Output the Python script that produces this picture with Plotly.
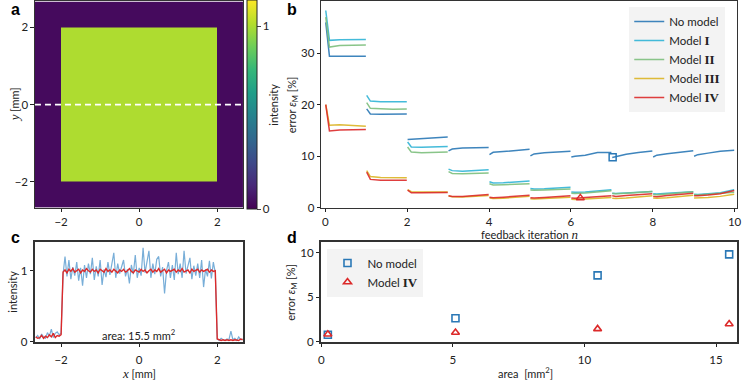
import plotly.graph_objects as go

# ── paleta ────────────────────────────────────────────────────────────────
C_NO = "#2a78b6"
C_I = "#30b4d6"
C_II = "#7dbf7d"
C_III = "#dcb424"
C_IV = "#dc2a2a"
C_NO_C = "#78aed8"
TINTA = "#222222"
FONTE = "Lato"
SERIF = "Liberation Serif"

# ── painel a: imagem (bordas das células em mm) ───────────────────────────
A_X_EDGES = [-2.67, -2.0, 2.0, 2.67]
A_Y_EDGES = [-2.67, -2.0, 2.0, 2.67]
A_Z = [[0.03, 0.03, 0.03],
       [0.03, 1.0, 0.03],
       [0.03, 0.03, 0.03]]
A_ZMAX = 1.14
CUT_Y = 0.0

# ── painel b: erro por iteração de feedback ───────────────────────────────
ITER = [0, 1, 2, 3, 4, 5, 6, 7, 8, 9]
T_OFF = [0.01, 0.1, 0.35, 0.65, 0.99]   # posição dentro de cada iteração

ERR_NO = [[36.0, 29.4, 29.4, 29.4, 29.4], [19.2, 18.2, 18.15, 18.2, 18.2],
          [13.25, 13.3, 13.4, 13.55, 13.75], [11.05, 11.4, 11.6, 11.65, 11.7],
          [10.3, 10.75, 10.9, 11.1, 11.35], [10.05, 10.45, 10.65, 10.8, 10.95],
          [9.85, 10.0, 10.2, 10.7, 10.7], [9.75, 9.95, 10.4, 10.7, 11.0],
          [9.85, 10.2, 10.5, 10.8, 11.05], [10.0, 10.3, 10.6, 10.95, 11.15]]
ERR_I = [[38.3, 32.5, 32.6, 32.65, 32.65], [21.8, 20.7, 20.6, 20.6, 20.6],
         [12.75, 11.8, 11.75, 11.8, 11.9], [7.5, 7.2, 7.1, 7.2, 7.35],
         [5.05, 4.8, 4.85, 5.05, 5.2], [3.75, 3.65, 3.7, 3.8, 3.95],
         [3.05, 3.0, 3.05, 3.25, 3.5], [2.8, 2.75, 2.85, 3.0, 3.15],
         [2.7, 2.65, 2.8, 2.95, 3.1], [2.6, 2.55, 2.7, 2.9, 3.5]]
ERR_II = [[37.0, 31.2, 31.5, 31.6, 31.6], [20.4, 19.3, 19.2, 19.1, 19.15],
          [11.8, 10.8, 10.65, 10.7, 10.8], [7.0, 6.65, 6.6, 6.65, 6.75],
          [4.65, 4.4, 4.45, 4.55, 4.65], [3.45, 3.4, 3.45, 3.55, 3.65],
          [2.8, 2.75, 2.85, 3.05, 3.3], [2.75, 2.7, 2.8, 2.95, 3.15],
          [2.55, 2.5, 2.65, 2.85, 3.1], [2.5, 2.45, 2.6, 2.8, 3.0]]
ERR_III = [[20.0, 16.0, 16.1, 16.0, 15.8], [7.2, 6.05, 5.85, 5.8, 5.8],
           [3.5, 3.1, 3.05, 3.05, 3.05], [2.25, 2.15, 2.1, 2.2, 2.35],
           [1.9, 1.8, 1.85, 2.0, 2.2], [1.75, 1.7, 1.8, 1.9, 2.05],
           [1.65, 1.6, 1.7, 1.85, 2.0], [1.85, 1.8, 1.9, 2.05, 2.3],
           [1.9, 1.85, 1.95, 2.15, 2.4], [1.9, 1.9, 2.0, 2.2, 2.6]]
ERR_IV = [[20.0, 14.9, 15.1, 15.2, 15.2], [6.9, 5.5, 5.35, 5.3, 5.35],
          [3.4, 2.9, 2.9, 2.9, 2.95], [2.3, 2.2, 2.2, 2.35, 2.55],
          [2.05, 1.95, 2.05, 2.2, 2.4], [1.95, 1.9, 2.0, 2.15, 2.3],
          [1.9, 1.85, 2.0, 2.1, 2.3], [2.3, 2.2, 2.35, 2.5, 2.7],
          [2.2, 2.15, 2.35, 2.55, 2.8], [2.3, 2.3, 2.45, 2.7, 3.35]]

MARK_NO_B = (7.02, 9.8)
MARK_IV_B = (6.23, 1.9)

# ── painel c: perfil de intensidade em y = 0 ──────────────────────────────
X_PROFILE = [
    -2.65, -2.6, -2.55, -2.5, -2.45, -2.4, -2.35, -2.3, -2.25, -2.2,
    -2.15, -2.1, -2.05, -2.0, -1.95, -1.9, -1.85, -1.8, -1.75, -1.7,
    -1.65, -1.6, -1.55, -1.5, -1.45, -1.4, -1.35, -1.3, -1.25, -1.2,
    -1.15, -1.1, -1.05, -1.0, -0.95, -0.9, -0.85, -0.8, -0.75, -0.7,
    -0.65, -0.6, -0.55, -0.5, -0.45, -0.4, -0.35, -0.3, -0.25, -0.2,
    -0.15, -0.1, -0.05, 0.0, 0.05, 0.1, 0.15, 0.2, 0.25, 0.3,
    0.35, 0.4, 0.45, 0.5, 0.55, 0.6, 0.65, 0.7, 0.75, 0.8,
    0.85, 0.9, 0.95, 1.0, 1.05, 1.1, 1.15, 1.2, 1.25, 1.3,
    1.35, 1.4, 1.45, 1.5, 1.55, 1.6, 1.65, 1.7, 1.75, 1.8,
    1.85, 1.9, 1.95, 2.0, 2.05, 2.1, 2.15, 2.2, 2.25, 2.3,
    2.35, 2.4, 2.45, 2.5, 2.55, 2.6, 2.65,
]
I_NO_MODEL = [
    0.06, 0.09, 0.04, 0.11, 0.07, 0.05, 0.13, 0.08, 0.18, 0.06,
    0.12, 0.14, 0.1, 0.12, 0.95, 1.2, 0.92, 1.15, 0.88, 1.05,
    0.93, 1.12, 0.86, 1.04, 0.79, 1.08, 0.9, 1.1, 0.95, 1.18,
    0.87, 1.06, 0.92, 1.15, 0.8, 1.02, 0.91, 1.12, 0.94, 1.08,
    1.25, 0.9, 1.1, 0.96, 1.05, 1.15, 0.92, 1.02, 0.82, 1.08,
    0.95, 1.22, 0.9, 1.04, 0.93, 1.32, 0.97, 1.12, 1.28, 0.9,
    1.1, 0.95, 1.16, 1.2, 0.92, 1.05, 0.68, 1.0, 1.12, 0.9,
    1.08, 0.87, 1.25, 0.95, 1.1, 0.9, 1.28, 0.96, 1.06, 1.18,
    0.88, 1.07, 0.93, 1.1, 0.9, 1.15, 0.77, 1.02, 0.92, 1.14,
    0.89, 1.12, 0.97, 0.04, 0.02, 0.05, 0.03, 0.02, 0.04, 0.03,
    0.15, 0.03, 0.05, 0.02, 0.07, 0.03, 0.04,
]
I_MODEL_IV = [
    0.07, 0.05, 0.06, 0.09, 0.05, 0.08, 0.06, 0.1, 0.07, 0.12,
    0.06, 0.09, 0.08, 0.1, 0.98, 1.01, 0.97, 1.02, 0.99, 1.03,
    0.98, 1.0, 1.02, 0.97, 1.01, 0.99, 1.03, 1.0, 0.98, 1.02,
    0.99, 1.01, 0.97, 1.02, 1.0, 0.98, 1.03, 0.99, 1.01, 0.98,
    1.02, 1.0, 0.97, 1.01, 0.99, 1.02, 0.98, 1.0, 1.03, 0.99,
    0.97, 1.01, 1.0, 0.98, 1.02, 0.99, 1.01, 0.97, 1.0, 1.02,
    0.98, 1.01, 0.99, 1.03, 0.98, 1.0, 1.02, 0.97, 1.01, 0.99,
    1.0, 1.02, 0.98, 1.01, 0.99, 1.03, 0.98, 1.0, 1.01, 0.97,
    1.02, 0.99, 1.0, 1.02, 0.98, 1.01, 0.99, 1.0, 1.02, 0.98,
    1.01, 0.99, 1.0, 0.04, 0.03, 0.02, 0.03, 0.02, 0.03, 0.02,
    0.03, 0.02, 0.03, 0.03, 0.02, 0.04, 0.03,
]
assert len(X_PROFILE) == len(I_NO_MODEL) == len(I_MODEL_IV)
AREA_LABEL = "area: 15.5 mm<sup>2</sup>"

# ── painel d: erro final x área ───────────────────────────────────────────
AREA = [0.25, 5.1, 10.5, 15.5]
ERR_AREA_NO = [0.8, 2.65, 7.45, 9.8]
ERR_AREA_IV = [0.85, 1.05, 1.45, 2.0]


def px_x(p):
    return p / 748


def px_y(p):
    return 1 - p / 384


def segmentos(erros):
    """Junta as iterações numa única linha, com quebras entre elas."""
    xs, ys = [], []
    for n, seg in zip(ITER, erros):
        xs += [n + t for t in T_OFF] + [None]
        ys += list(seg) + [None]
    return xs, ys


def romano(r):
    return "Model <span style='font-family:%s;font-size:13px'><b>%s</b></span>" % (SERIF, r)


def italico(letra):
    return "<span style='font-family:%s;font-size:13px'><i>%s</i></span>" % (SERIF, letra)


def eixo(dominio, faixa, ticks, anchor, largura=1.2, afasta=0, **kw):
    return dict(domain=dominio, range=faixa, tickvals=ticks, anchor=anchor,
                ticks="outside", ticklen=3.5, tickwidth=1, tickcolor=TINTA,
                showline=True, mirror=True, linecolor="#333333", linewidth=largura,
                showgrid=False, zeroline=False, ticklabelstandoff=afasta,
                tickfont=dict(size=11.5, color=TINTA), **kw)


fig = go.Figure()

# a
fig.add_heatmap(x=A_X_EDGES, y=A_Y_EDGES, z=A_Z, zmin=0, zmax=A_ZMAX,
                colorscale="Viridis", xaxis="x", yaxis="y",
                colorbar=dict(x=px_x(247), xanchor="left", xpad=0, ypad=0,
                              thickness=10, lenmode="pixels", len=209,
                              y=px_y(106.5), yanchor="middle",
                              outlinewidth=1, outlinecolor=TINTA,
                              tickvals=[0, 1], ticks="outside", ticklen=3.5,
                              tickfont=dict(size=11.5, color=TINTA),
                              title=dict(text="intensity", side="right",
                                         font=dict(size=11, color=TINTA))),
                hoverinfo="skip")
fig.add_scatter(x=[A_X_EDGES[0], A_X_EDGES[-1]], y=[CUT_Y, CUT_Y], mode="lines",
                line=dict(color="white", width=1.6, dash="6px,4px"),
                xaxis="x", yaxis="y", showlegend=False)

# b
for nome, erros, cor in [("No model", ERR_NO, C_NO), (romano("I"), ERR_I, C_I),
                         (romano("II"), ERR_II, C_II), (romano("III"), ERR_III, C_III),
                         (romano("IV"), ERR_IV, C_IV)]:
    xs, ys = segmentos(erros)
    fig.add_scatter(x=xs, y=ys, mode="lines", name=nome, xaxis="x2", yaxis="y2",
                    line=dict(color=cor, width=1.5), opacity=0.9, legend="legend")
fig.add_scatter(x=[MARK_NO_B[0]], y=[MARK_NO_B[1]], mode="markers", xaxis="x2", yaxis="y2",
                marker=dict(symbol="square-open", size=7, color=C_NO, line=dict(width=1.5)),
                showlegend=False)
fig.add_scatter(x=[MARK_IV_B[0]], y=[MARK_IV_B[1]], mode="markers", xaxis="x2", yaxis="y2",
                marker=dict(symbol="triangle-up-open", size=7, color=C_IV, line=dict(width=1.5)),
                showlegend=False)

# c
fig.add_scatter(x=X_PROFILE, y=I_NO_MODEL, mode="lines", xaxis="x3", yaxis="y3",
                line=dict(color=C_NO_C, width=1.2), showlegend=False)
fig.add_scatter(x=X_PROFILE, y=I_MODEL_IV, mode="lines", xaxis="x3", yaxis="y3",
                line=dict(color=C_IV, width=1.4), showlegend=False)

# d
fig.add_scatter(x=AREA, y=ERR_AREA_NO, mode="markers", name="No model",
                xaxis="x4", yaxis="y4", legend="legend2",
                marker=dict(symbol="square-open", size=7, color=C_NO, line=dict(width=1.6)))
fig.add_scatter(x=AREA, y=ERR_AREA_IV, mode="markers", name=romano("IV"),
                xaxis="x4", yaxis="y4", legend="legend2",
                marker=dict(symbol="triangle-up-open", size=7, color=C_IV, line=dict(width=1.6)))

dom_ax = [px_x(32.3), px_x(243)]
dom_bx = [px_x(321.7), px_x(742)]
dom_top = [px_y(211), px_y(1.5)]
dom_bot = [px_y(347.3), px_y(245.7)]

titulo = dict(size=11, color=TINTA, family=FONTE)
err_txt = "error <i>ε</i><sub>M</sub> [%]"
anots = [
    dict(text="<b>a</b>", x=px_x(13), y=px_y(10)),
    dict(text="<b>b</b>", x=px_x(292), y=px_y(10)),
    dict(text="<b>c</b>", x=px_x(13), y=px_y(241)),
    dict(text="<b>d</b>", x=px_x(292), y=px_y(241)),
]
for a in anots:
    a.update(font=dict(size=16, color="black", family="Liberation Sans"))
anots += [
    dict(text=italico("y") + " [mm]", x=px_x(11), y=px_y(106), textangle=-90, font=titulo),
    dict(text=err_txt, x=px_x(292), y=px_y(106), textangle=-90, font=titulo),
    dict(text="feedback iteration " + italico("n"), x=px_x(532), y=px_y(238), font=titulo),
    dict(text="intensity", x=px_x(10), y=px_y(296.5), textangle=-90, font=titulo),
    dict(text=italico("x") + " [mm]", x=px_x(137), y=px_y(379), font=titulo),
    dict(text=err_txt, x=px_x(292), y=px_y(296.5), textangle=-90, font=titulo),
    dict(text="area  [mm<sup>2</sup>]", x=px_x(528), y=px_y(378), font=titulo),
]
for a in anots:
    a.update(xref="paper", yref="paper", showarrow=False,
             xanchor="center", yanchor="middle")
anots.append(dict(text=AREA_LABEL, x=0, y=0, xref="x3", yref="y3", showarrow=False,
                  xanchor="center", yanchor="bottom", yshift=-2,
                  font=dict(size=11, color=TINTA, family=FONTE)))

legenda = dict(xanchor="left", yanchor="top", bgcolor="rgba(242,242,242,0.95)",
               borderwidth=0, font=dict(size=11.5, color=TINTA, family=FONTE),
               itemwidth=30, tracegroupgap=0)

fig.update_layout(
    width=748, height=384, margin=dict(l=0, r=0, t=0, b=0),
    paper_bgcolor="white", plot_bgcolor="white",
    font=dict(family=FONTE, color=TINTA),
    xaxis=eixo(dom_ax, [-2.67, 2.67], [-2, 0, 2], "y"),
    yaxis=eixo(dom_top, [-2.67, 2.67], [-2, 0, 2], "x"),
    xaxis2=eixo(dom_bx, [-0.1, 10.06], [0, 2, 4, 6, 8, 10], "y2"),
    yaxis2=eixo(dom_top, [0, 40.05], [0, 10, 20, 30], "x2"),
    xaxis3=eixo(dom_ax, [-2.67, 2.67], [-2, 0, 2], "y3", largura=1.6, afasta=3),
    yaxis3=eixo(dom_bot, [0, 1.405], [0, 1], "x3", largura=1.6),
    xaxis4=eixo(dom_bx, [0, 15.8], [0, 5, 10, 15], "y4", largura=1.6, afasta=3),
    yaxis4=eixo(dom_bot, [0, 11.2], [0, 5, 10], "x4", largura=1.6),
    legend=dict(legenda, x=px_x(633), y=px_y(7)),
    legend2=dict(legenda, x=px_x(328), y=px_y(252.5)),
    annotations=anots,
)
# sem a margem padrão do <body>, a figura ocupa a janela inteira
fig.write_html("out.html", config={"displayModeBar": False},
               post_script="document.body.style.margin='0';")
